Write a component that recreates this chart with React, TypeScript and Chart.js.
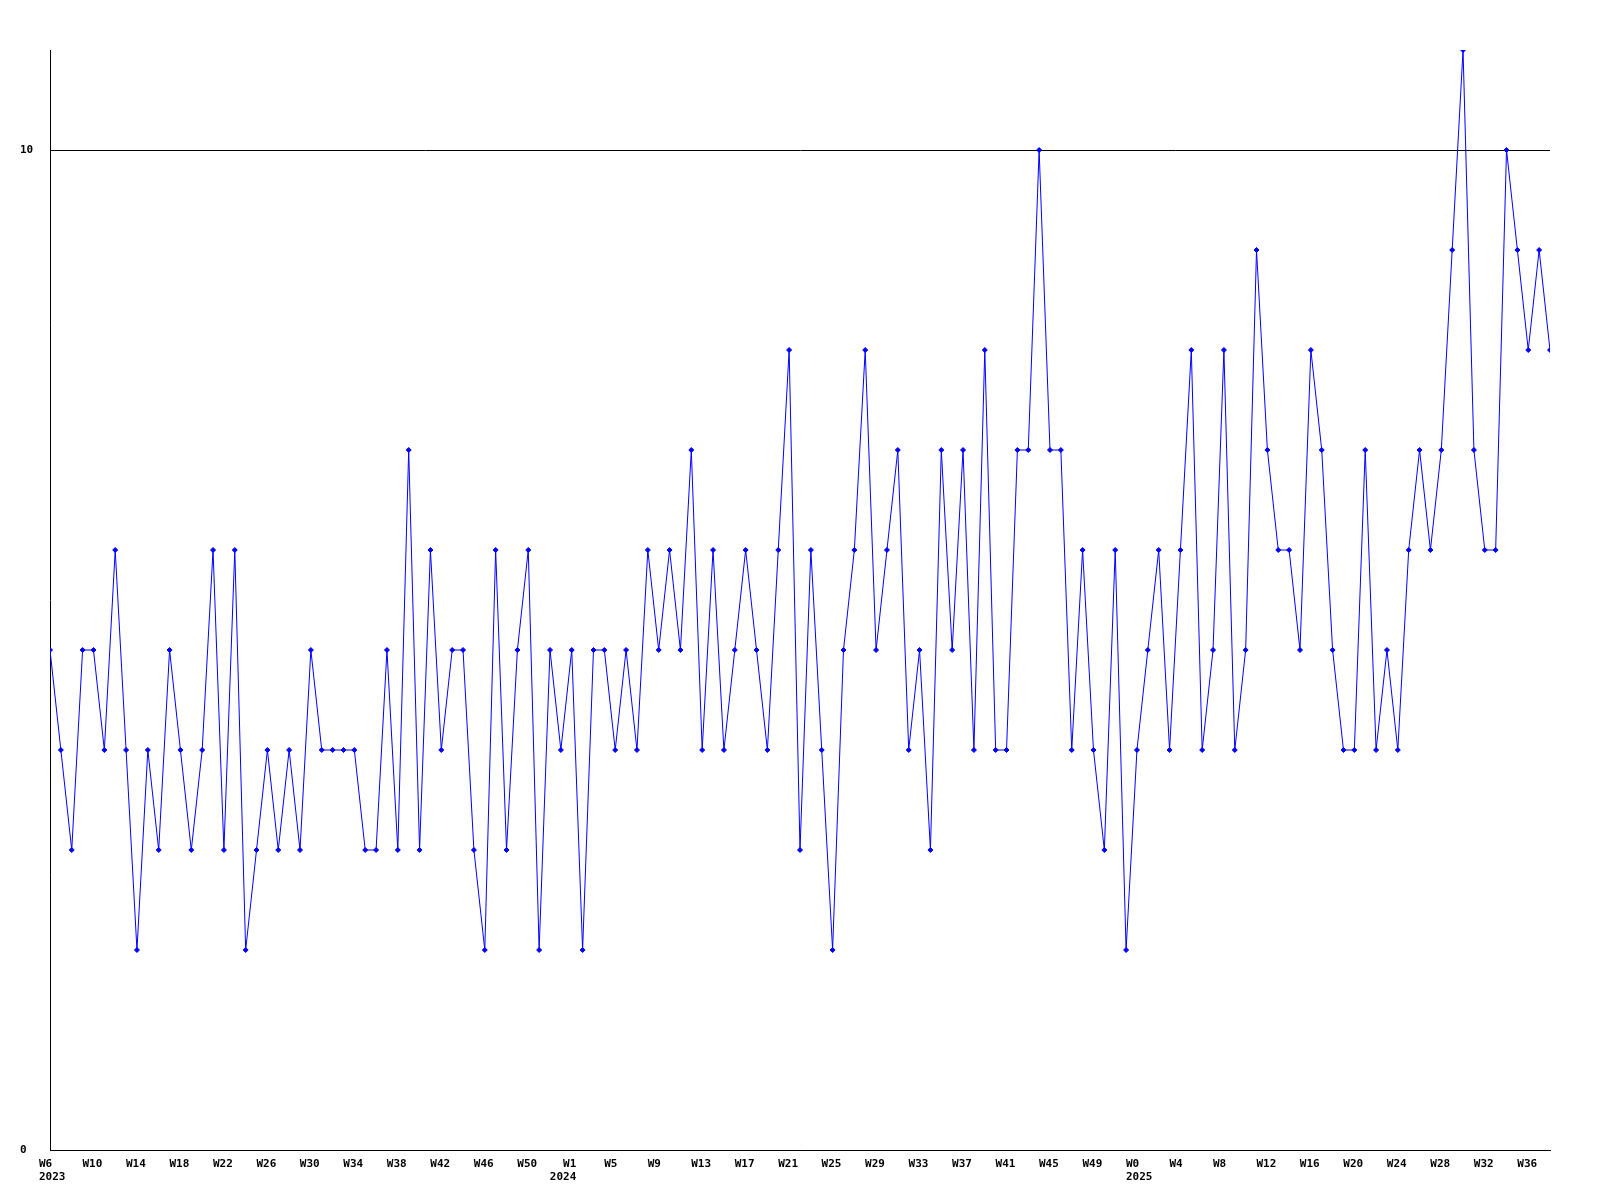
import React, { useEffect, useRef } from "react";
import { Chart, registerables } from "chart.js";

Chart.register(...registerables);

// Weekly values, starting at W6 2023
const weeklyValues: number[] = [
  5, 4, 3, 5, 5, 4, 6, 4, 2, 4,
  3, 5, 4, 3, 4, 6, 3, 6, 2, 3,
  4, 3, 4, 3, 5, 4, 4, 4, 4, 3,
  3, 5, 3, 7, 3, 6, 4, 5, 5, 3,
  2, 6, 3, 5, 6, 2, 5, 4, 5, 2,
  5, 5, 4, 5, 4, 6, 5, 6, 5, 7,
  4, 6, 4, 5, 6, 5, 4, 6, 8, 3,
  6, 4, 2, 5, 6, 8, 5, 6, 7, 4,
  5, 3, 7, 5, 7, 4, 8, 4, 4, 7,
  7, 10, 7, 7, 4, 6, 4, 3, 6, 2,
  4, 5, 6, 4, 6, 8, 4, 5, 8, 4,
  5, 9, 7, 6, 6, 5, 8, 7, 5, 4,
  4, 7, 4, 5, 4, 6, 7, 6, 7, 9,
  11, 7, 6, 6, 10, 9, 8, 9, 8,
];

// X tick labels (one every 4 weeks)
const weekTickLabels: string[] = [
  "W6", "W10", "W14", "W18", "W22", "W26", "W30", "W34", "W38", "W42", "W46", "W50",
  "W1", "W5", "W9", "W13", "W17", "W21", "W25", "W29", "W33", "W37", "W41", "W45", "W49",
  "W0", "W4", "W8", "W12", "W16", "W20", "W24", "W28", "W32", "W36",
];
// week index of each tick (year label of 2024 sits one week earlier than its tick)
const weekTickPositions: number[] = [
  0, 4, 8, 12, 16, 20, 24, 28, 32, 36, 40, 44,
  47, 52, 56, 60, 64, 68, 72, 76, 80, 84, 88, 92, 96,
  100, 104, 108, 112, 116, 120, 124, 128, 132, 136,
];
const yearTickLabels: { [k: number]: string } = { 0: "2023", 12: "2024", 25: "2025" };
const weekLabelIndent: { [k: number]: string } = { 12: "  " };

const yTickValues: number[] = [0, 10];
const yMax = 11;

const FONT = { family: "'DejaVu Sans Mono', monospace", size: 11, weight: "bold" as const, lineHeight: 1.24 };

export default function App() {
  const canvasRef = useRef<HTMLCanvasElement | null>(null);

  useEffect(() => {
    const canvas = canvasRef.current;
    if (!canvas) return;
    const chart = new Chart(canvas, {
      type: "line",
      data: {
        datasets: [
          {
            data: weeklyValues.map((v, i) => ({ x: i, y: v })),
            borderColor: "#0000ff",
            backgroundColor: "#0000ff",
            borderWidth: 1,
            pointStyle: "rectRot",
            pointRadius: 2.5,
            pointBorderWidth: 1,
            pointBackgroundColor: "#0000ff",
            pointBorderColor: "#0000ff",
            tension: 0,
            fill: false,
          },
        ],
      },
      options: {
        animation: false,
        responsive: false,
        devicePixelRatio: 1,
        layout: { padding: { left: 12, right: 42, top: 42, bottom: 12 } },
        plugins: {
          legend: { display: false },
          tooltip: { enabled: false },
          title: { display: false },
        },
        scales: {
          x: {
            type: "linear",
            min: 0,
            max: weeklyValues.length - 1,
            grid: { display: false, drawTicks: false },
            border: { display: true, color: "#000000", width: 1 },
            afterBuildTicks: (scale: any) => {
              scale.ticks = weekTickPositions.map((v) => ({ value: v }));
            },
            afterFit: (scale: any) => {
              scale.height = 30;
            },
            ticks: {
              autoSkip: false,
              maxRotation: 0,
              minRotation: 0,
              align: "start",
              labelOffset: -11,
              padding: 7,
              color: "#000000",
              font: FONT,
              callback: (value: any) => {
                const k = weekTickPositions.indexOf(Number(value));
                if (k < 0) return "";
                const yr = yearTickLabels[k];
                const w = (weekLabelIndent[k] || "") + weekTickLabels[k];
                return yr ? [w, yr] : w;
              },
            },
          },
          y: {
            type: "linear",
            min: 0,
            max: yMax,
            grid: { display: true, color: "#000000", lineWidth: 1, drawTicks: false },
            border: { display: true, color: "#000000", width: 1 },
            afterBuildTicks: (scale: any) => {
              scale.ticks = yTickValues.map((v) => ({ value: v }));
            },
            afterFit: (scale: any) => {
              scale.width = 30;
            },
            ticks: {
              crossAlign: "far",
              padding: 4,
              color: "#000000",
              font: FONT,
              callback: (value: any) => String(value),
            },
          },
        },
      },
    });
    return () => {
      chart.destroy();
    };
  }, []);

  return (
    <div style={{ width: 1584, height: 1184 }}>
      <canvas ref={canvasRef} width={1584} height={1184} style={{ display: "block", width: 1584, height: 1184 }} />
    </div>
  );
}
